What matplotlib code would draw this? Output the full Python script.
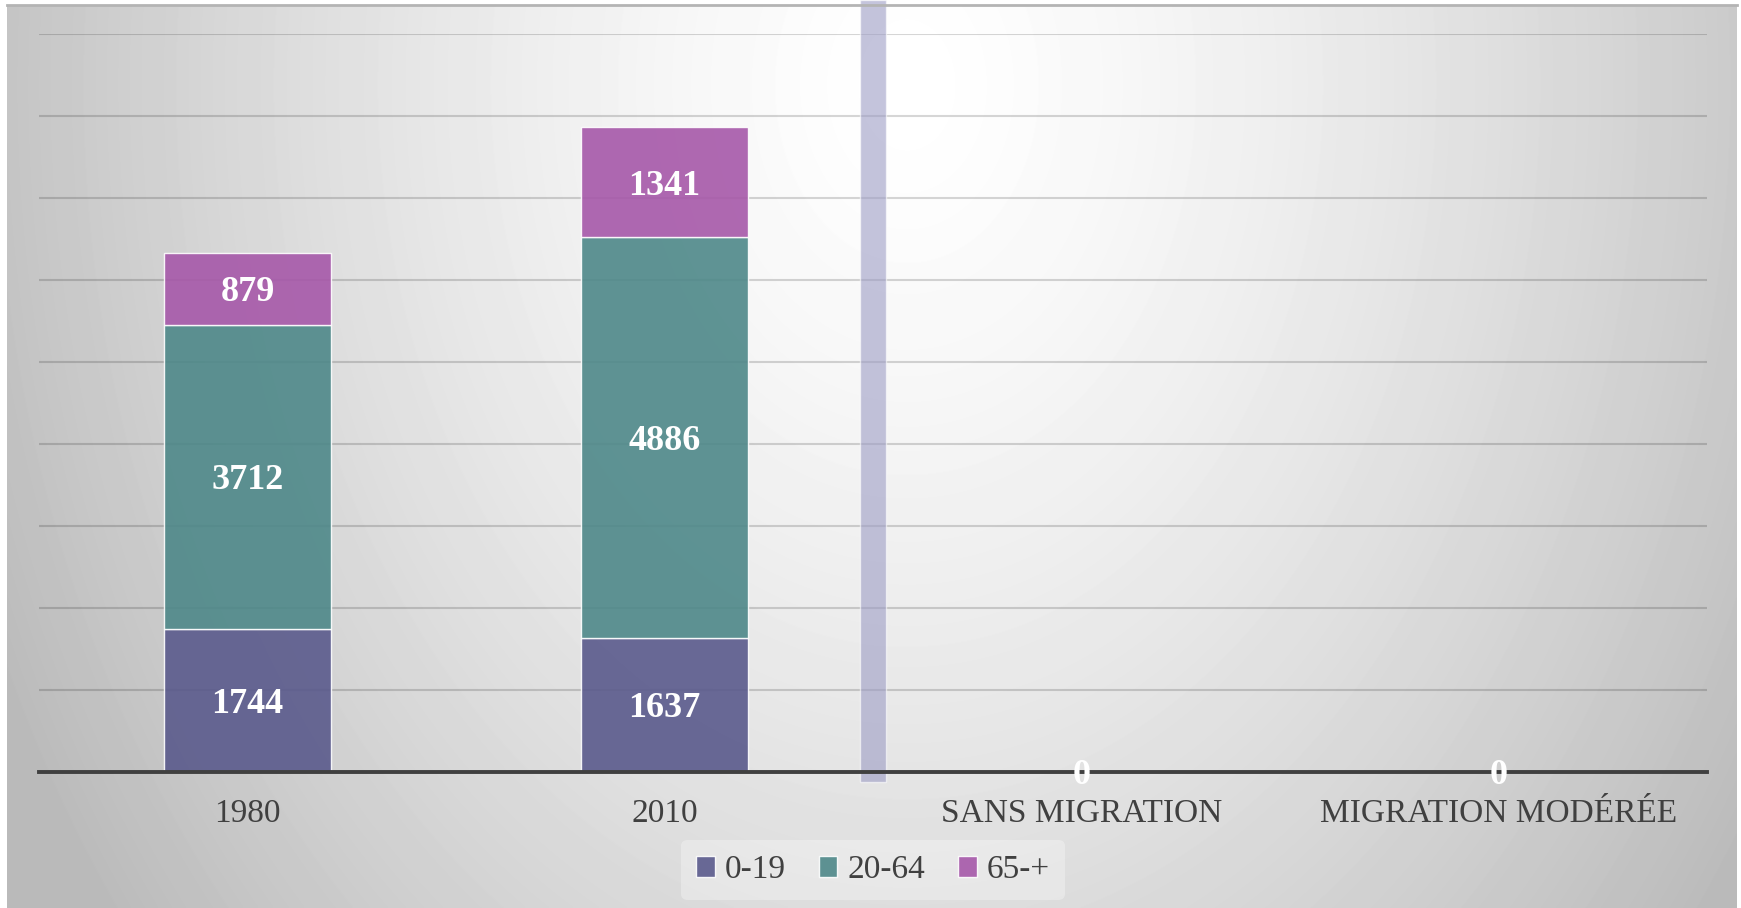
import numpy as np
import matplotlib
matplotlib.use('Agg')
import matplotlib.pyplot as plt
import matplotlib.transforms as mtransforms
from matplotlib.patches import Rectangle

categories = ['1980', '2010', 'SANS MIGRATION', 'MIGRATION MODÉRÉE']
age_0_19 = [1744, 1637, 0, 0]
age_20_64 = [3712, 4886, 0, 0]
age_65 = [879, 1341, 0, 0]
series_names = ['0-19', '20-64', '65-+']
n_historic = 2  # the two observed years, before the separator

plt.rcParams['font.family'] = ['Liberation Serif', 'DejaVu Serif']

W, H = 1741, 908
fig = plt.figure(figsize=(W / 100, H / 100), dpi=100)

# background box with a radial grey gradient
bg = fig.add_axes([7 / W, 0, 1730 / W, 903 / H])
yy, xx = np.mgrid[0:903, 0:1730]
d = np.sqrt(((xx - 900) / 1000.0) ** 2 + ((yy - 80) / 1350.0) ** 2)
shade = 255 - 68 * np.clip(d, 0, 1) ** 1.4
bg.imshow(shade, cmap='gray', vmin=0, vmax=255, aspect='auto', interpolation='bilinear')
bg.axis('off')
fig.add_artist(plt.Line2D([7 / W, 1737 / W], [903 / H, 903 / H], color='#b4b4b4', lw=2))

ax = fig.add_axes([39 / W, 136 / H, 1668 / W, 738 / H])
ax.patch.set_alpha(0)

x = np.arange(len(categories))
colors = ['#5a5a8c', '#4e8889', '#a658a9']
bottom = np.zeros(len(categories))
for vals, name, col in zip([age_0_19, age_20_64, age_65], series_names, colors):
    vals = np.array(vals, dtype=float)
    ax.bar(x, vals, 0.4, bottom=bottom, color=col, alpha=0.9, label=name,
           edgecolor=(1, 1, 1, 0.35), linewidth=1.0, zorder=3)
    for xi, v, b in zip(x, vals, bottom):
        # zero scenarios show a single "0" label at the baseline
        if v == 0 and name != series_names[0]:
            continue
        ax.text(xi, b + v / 2, f'{int(v)}', ha='center', va='center_baseline',
                color='white', fontsize=26, fontweight='bold', zorder=5)
    bottom += vals

# separator between observed years and scenarios
trans = mtransforms.blended_transform_factory(ax.transData, fig.transFigure)
sep = n_historic - 0.5
ax.add_patch(Rectangle((sep - 0.031, 126 / H), 0.062, 1 - 126 / H, transform=trans,
                       facecolor='#9d9dc5', alpha=0.6, edgecolor=(1, 1, 1, 0.4),
                       lw=1, clip_on=False, zorder=4))

ax.set_xlim(-0.5, len(categories) - 0.5)
ax.set_ylim(0, 9000)
ax.set_yticks(np.arange(0, 9001, 1000))
ax.yaxis.grid(True, color='k', alpha=0.16, lw=1.5, zorder=0)
ax.set_axisbelow(True)
ax.tick_params(axis='y', left=False, labelleft=False)
ax.set_xticks(x)
ax.set_xticklabels(categories, fontsize=24, color='#404040')
ax.tick_params(axis='x', length=0, pad=19)
for s in ['top', 'right', 'left']:
    ax.spines[s].set_visible(False)
ax.spines['bottom'].set_color('#404040')
ax.spines['bottom'].set_linewidth(2.8)
ax.spines['bottom'].set_zorder(4.5)

leg = fig.legend(loc='center', bbox_to_anchor=(873 / W, 38 / H), ncol=3,
                 fontsize=24, frameon=True, handlelength=0.55, handleheight=0.55,
                 handletextpad=0.3, columnspacing=1.0, borderpad=0.45)
leg.get_frame().set_facecolor('white')
leg.get_frame().set_alpha(0.3)
leg.get_frame().set_edgecolor('none')
for t in leg.get_texts():
    t.set_color('#404040')

fig.savefig('out.png', dpi=100)
